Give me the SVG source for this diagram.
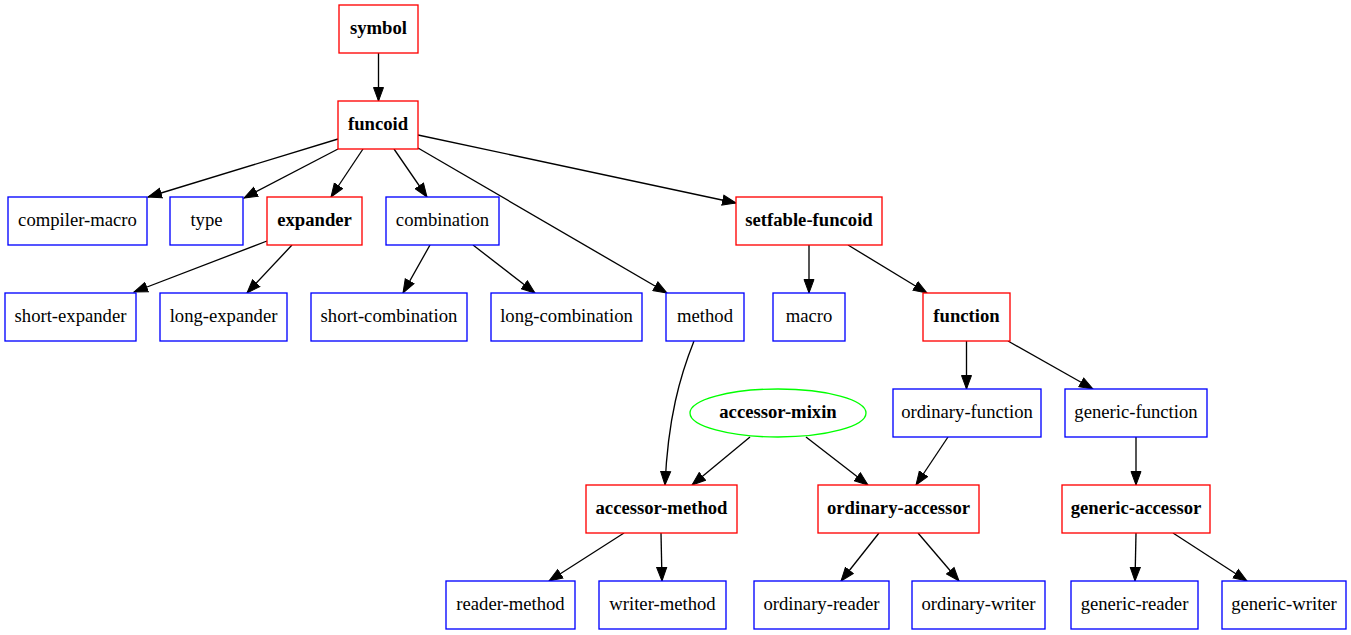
<svg xmlns="http://www.w3.org/2000/svg" width="1351" height="635" viewBox="0 0 1351 635">
<style>
.r rect{fill:#fff;stroke:#ff0000;stroke-width:1.33}
.b rect{fill:#fff;stroke:#0000ff;stroke-width:1.33}
.g ellipse{fill:#fff;stroke:#00ff00;stroke-width:1.33}
text{font-family:"Liberation Serif","Times New Roman",serif;font-size:18.67px;text-anchor:middle;fill:#000}
.r text,.g text{font-weight:bold}
#edges path,#edges line{stroke:#000;stroke-width:1.33;fill:none;marker-end:url(#arr)}
</style>
<defs>
<marker id="arr" markerUnits="userSpaceOnUse" markerWidth="15" markerHeight="12" refX="14" refY="6" viewBox="0 0 15 12" orient="auto">
<path d="M0.5,1 L14,6 L0.5,11 z" fill="#000" stroke="#000" stroke-width="1"/>
</marker>
</defs>
<rect width="1351" height="635" fill="#fff"/>
<g id="edges">
<line x1="378.5" y1="53" x2="378.5" y2="101"/>
<line x1="338" y1="139" x2="148" y2="197"/>
<line x1="338" y1="149" x2="244" y2="198"/>
<line x1="363" y1="149" x2="331" y2="197"/>
<line x1="394" y1="149" x2="427" y2="197"/>
<line x1="418" y1="148" x2="667" y2="293"/>
<line x1="418" y1="135" x2="736" y2="203"/>
<line x1="267" y1="241" x2="134" y2="292"/>
<line x1="292" y1="245" x2="247" y2="293"/>
<line x1="430" y1="245" x2="403" y2="293"/>
<line x1="473" y1="245" x2="535" y2="293"/>
<line x1="809" y1="245" x2="809" y2="293"/>
<line x1="848" y1="245" x2="927" y2="293"/>
<line x1="966.5" y1="341" x2="966.5" y2="389"/>
<line x1="1008" y1="341" x2="1093" y2="389"/>
<path d="M694,341 C680,376 668,418 665,485"/>
<line x1="750" y1="437" x2="692" y2="485"/>
<line x1="806" y1="437" x2="868" y2="485"/>
<line x1="948" y1="437" x2="916" y2="485"/>
<line x1="1136" y1="437" x2="1136" y2="485"/>
<line x1="624" y1="533" x2="549" y2="581"/>
<line x1="661" y1="533" x2="662" y2="581"/>
<line x1="879" y1="533" x2="841" y2="581"/>
<line x1="918" y1="533" x2="959" y2="581"/>
<line x1="1136" y1="533" x2="1135" y2="581"/>
<line x1="1173" y1="533" x2="1247" y2="581"/>
</g>
<g id="symbol" class="r"><rect x="339" y="5" width="79" height="48"/><text x="378.5" y="34">symbol</text></g>
<g id="funcoid" class="r"><rect x="338" y="101" width="80" height="48"/><text x="378" y="130">funcoid</text></g>
<g id="compiler-macro" class="b"><rect x="8" y="197" width="139" height="48"/><text x="77.5" y="226">compiler-macro</text></g>
<g id="type" class="b"><rect x="170" y="197" width="73" height="48"/><text x="206.5" y="226">type</text></g>
<g id="expander" class="r"><rect x="267" y="197" width="95" height="48"/><text x="314.5" y="226">expander</text></g>
<g id="combination" class="b"><rect x="386" y="197" width="113" height="48"/><text x="442.5" y="226">combination</text></g>
<g id="setfable-funcoid" class="r"><rect x="736" y="197" width="146" height="48"/><text x="809" y="226">setfable-funcoid</text></g>
<g id="short-expander" class="b"><rect x="5" y="293" width="131" height="48"/><text x="70.5" y="322">short-expander</text></g>
<g id="long-expander" class="b"><rect x="160" y="293" width="127" height="48"/><text x="223.5" y="322">long-expander</text></g>
<g id="short-combination" class="b"><rect x="311" y="293" width="156" height="48"/><text x="389" y="322">short-combination</text></g>
<g id="long-combination" class="b"><rect x="491" y="293" width="151" height="48"/><text x="566.5" y="322">long-combination</text></g>
<g id="method" class="b"><rect x="666" y="293" width="78" height="48"/><text x="705" y="322">method</text></g>
<g id="macro" class="b"><rect x="773" y="293" width="72" height="48"/><text x="809" y="322">macro</text></g>
<g id="function" class="r"><rect x="923" y="293" width="87" height="48"/><text x="966.5" y="322">function</text></g>
<g id="accessor-mixin" class="g"><ellipse cx="778" cy="413" rx="88" ry="24"/><text x="778" y="418">accessor-mixin</text></g>
<g id="ordinary-function" class="b"><rect x="893" y="389" width="148" height="48"/><text x="967" y="418">ordinary-function</text></g>
<g id="generic-function" class="b"><rect x="1065" y="389" width="142" height="48"/><text x="1136" y="418">generic-function</text></g>
<g id="accessor-method" class="r"><rect x="586" y="485" width="151" height="48"/><text x="661.5" y="514">accessor-method</text></g>
<g id="ordinary-accessor" class="r"><rect x="818" y="485" width="161" height="48"/><text x="898.5" y="514">ordinary-accessor</text></g>
<g id="generic-accessor" class="r"><rect x="1062" y="485" width="148" height="48"/><text x="1136" y="514">generic-accessor</text></g>
<g id="reader-method" class="b"><rect x="446" y="581" width="129" height="48"/><text x="510.5" y="610">reader-method</text></g>
<g id="writer-method" class="b"><rect x="599" y="581" width="127" height="48"/><text x="662.5" y="610">writer-method</text></g>
<g id="ordinary-reader" class="b"><rect x="754" y="581" width="135" height="48"/><text x="821.5" y="610">ordinary-reader</text></g>
<g id="ordinary-writer" class="b"><rect x="912" y="581" width="133" height="48"/><text x="978.5" y="610">ordinary-writer</text></g>
<g id="generic-reader" class="b"><rect x="1071" y="581" width="127" height="48"/><text x="1134.5" y="610">generic-reader</text></g>
<g id="generic-writer" class="b"><rect x="1222" y="581" width="124" height="48"/><text x="1284" y="610">generic-writer</text></g>
</svg>
